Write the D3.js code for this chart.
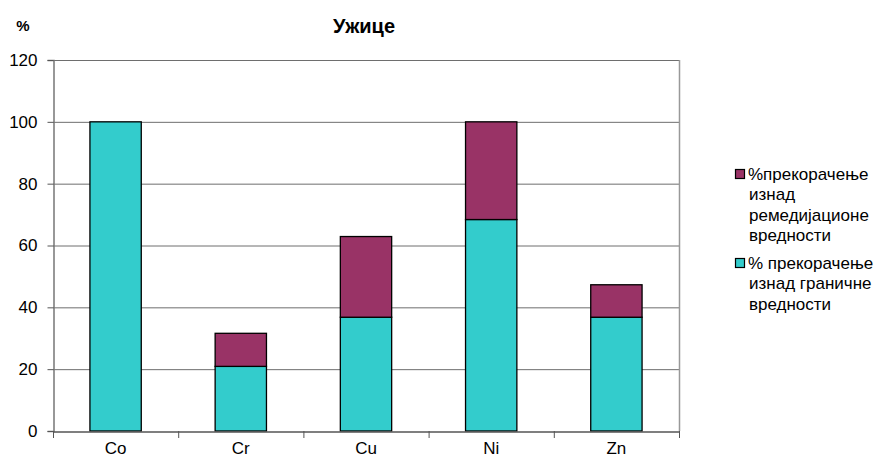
<!DOCTYPE html>
<html><head><meta charset="utf-8">
<script src="https://cdn.jsdelivr.net/npm/d3@7"></script>
<style>body{margin:0;background:#fff}svg{display:block;font-family:"Liberation Sans",Arial,sans-serif}</style>
</head><body><svg id="c" width="880" height="457"></svg>
<script>
const categories = ["Co","Cr","Cu","Ni","Zn"];
const limitValues = [100, 20.9, 36.8, 68.4, 36.8];        // % прекорачење изнад граничне вредности
const remediationValues = [0, 10.7, 26.1, 31.6, 10.5];    // %прекорачење изнад ремедијационе вредности
const yTicks = [0,20,40,60,80,100,120];

const svg = d3.select("#c");
const L = 53, R = 679, T = 60, B = 431;
const x = d3.scaleBand().domain(categories).range([L, R]);
const y = d3.scaleLinear().domain([0,120]).range([B, T]);
const FONT = "Liberation Sans, Arial, sans-serif";

// gridlines
svg.append("g").selectAll("line").data(yTicks.filter(d=>d>0)).join("line")
  .attr("x1", L).attr("x2", R).attr("y1", d=>y(d)+0.5).attr("y2", d=>y(d)+0.5)
  .attr("stroke", "#6e6e6e").attr("stroke-width", 1);
// right border
svg.append("line").attr("x1", R+0.5).attr("x2", R+0.5).attr("y1", T).attr("y2", B)
  .attr("stroke", "#999").attr("stroke-width", 1.5);

const bw = x.bandwidth()*0.41;
const data = categories.map((c,i)=>({c, a: limitValues[i], b: remediationValues[i]}));
const g = svg.append("g");
g.selectAll("rect.a").data(data).join("rect").attr("class","a")
  .attr("x", d=>x(d.c)+(x.bandwidth()-bw)/2).attr("width", bw)
  .attr("y", d=>y(d.a)).attr("height", d=>B-y(d.a))
  .attr("fill", "#33CCCC").attr("stroke", "#000").attr("stroke-width", 1.3);
g.selectAll("rect.b").data(data.filter(d=>d.b>0)).join("rect").attr("class","b")
  .attr("x", d=>x(d.c)+(x.bandwidth()-bw)/2).attr("width", bw)
  .attr("y", d=>y(d.a+d.b)).attr("height", d=>y(d.a)-y(d.a+d.b))
  .attr("fill", "#993366").attr("stroke", "#000").attr("stroke-width", 1.3);

// y axis
const ya = svg.append("g").attr("transform", `translate(${L+0.5},0)`)
  .call(d3.axisLeft(y).tickValues(yTicks).tickSize(6).tickPadding(10).tickFormat(d3.format("d")));
ya.select(".domain").attr("stroke", "#777").attr("stroke-width", 1.5);
ya.selectAll(".tick line").attr("stroke", "#555");
ya.selectAll("text").attr("font-size", 17).attr("fill", "#000").attr("font-family", FONT);

// x axis
const xa = svg.append("g").attr("transform", `translate(0,${B+0.5})`)
  .call(d3.axisBottom(x).tickSize(0).tickPadding(10));
xa.select(".domain").attr("stroke", "#555").attr("stroke-width", 1.3);
xa.selectAll("text").attr("font-size", 17).attr("fill", "#000").attr("font-family", FONT);
// category separator ticks
svg.append("g").selectAll("line").data(d3.range(categories.length+1)).join("line")
  .attr("x1", i=>L + i*x.step()+0.5).attr("x2", i=>L + i*x.step()+0.5)
  .attr("y1", B).attr("y2", B+7).attr("stroke", "#555");

// title and unit
svg.append("text").attr("x", 364).attr("y", 33).attr("text-anchor","middle")
  .attr("font-size", 20).attr("font-weight","bold").text("Ужице");
svg.append("text").attr("x", 23).attr("y", 31).attr("text-anchor","middle")
  .attr("font-size", 15).attr("font-weight","bold").text("%");

// legend
const legend = [
  {color:"#993366", lines:["%прекорачење","изнад","ремедијационе","вредности"], y:174},
  {color:"#33CCCC", lines:["% прекорачење","изнад граничне","вредности"], y:263}
];
legend.forEach(e=>{
  svg.append("rect").attr("x", 735.5).attr("y", e.y-4.5).attr("width", 9).attr("height", 9)
    .attr("fill", e.color).attr("stroke", "#000").attr("stroke-width", 1.2);
  const t = svg.append("text").attr("font-size", 17).attr("fill","#000");
  e.lines.forEach((s,i)=>{
    t.append("tspan").attr("x", i===0 ? 748 : 749).attr("y", e.y + 6 + i*20.3).text(s);
  });
});
</script></body></html>
